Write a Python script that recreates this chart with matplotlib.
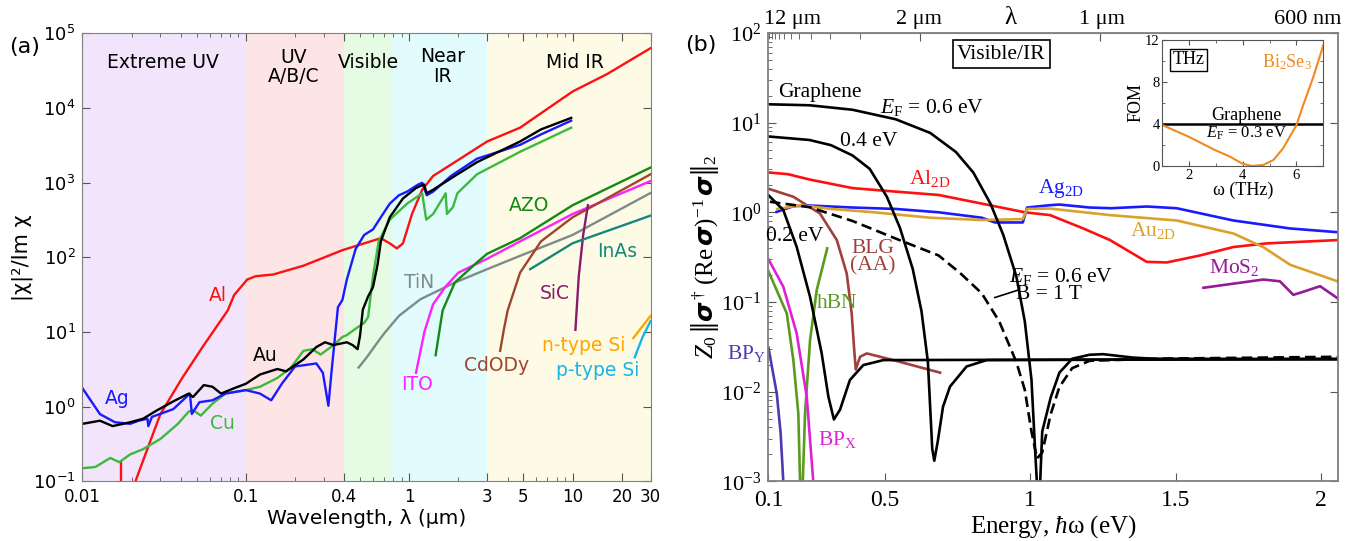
import numpy as np
import matplotlib.pyplot as plt
from matplotlib.ticker import FixedLocator, LogLocator, NullFormatter, NullLocator

plt.rcParams['mathtext.fontset'] = 'custom'
plt.rcParams['mathtext.rm'] = 'Liberation Serif'
plt.rcParams['mathtext.it'] = 'Liberation Serif:italic'
plt.rcParams['mathtext.bf'] = 'Liberation Serif:bold'
plt.rcParams['mathtext.sf'] = 'DejaVu Sans'
SERIF = 'Liberation Serif'

# ---------------- panel (a): |chi|^2 / Im chi vs wavelength (um) ----------------
band_lo = [0.01, 0.1, 0.4, 0.78, 3]
band_hi = [0.1, 0.4, 0.78, 3, 30]
band_names = ['Extreme UV', 'UV\nA/B/C', 'Visible', 'Near\nIR', 'Mid IR']
band_colors = ['#f1e4fb', '#fde5e5', '#e5fbe4', '#e2fcfd', '#fdfbe5']

al_wl = [0.0211, 0.025, 0.030, 0.0408, 0.0553, 0.0774, 0.0848, 0.102, 0.115, 0.147, 0.225, 0.39,
         0.67, 0.76, 0.84, 0.915, 1.04, 1.20, 1.40, 1.90, 3.0, 4.77, 10, 16.2, 29.9]
al_val = [0.1, 0.274, 0.796, 2.43, 6.68, 19.4, 31.3, 50.6, 56, 59, 77.4, 125,
          181, 154, 132, 154, 382, 806, 1233, 1888, 3573, 5470, 16700, 28460, 63250]
al_edge_wl = [0.0173, 0.0173]
al_edge_val = [0.1, 0.18]

ag_wl = [0.01, 0.0128, 0.0158, 0.0196, 0.0221, 0.025, 0.0253, 0.0266, 0.036, 0.0455, 0.0467, 0.052,
         0.0625, 0.075, 0.1, 0.122, 0.143, 0.166, 0.2, 0.27, 0.296, 0.32, 0.334, 0.366, 0.39, 0.415,
         0.47, 0.53, 0.6, 0.67, 0.76, 0.865, 0.97, 1.13, 1.2, 1.28, 1.4, 1.8, 2.6, 4.77, 6.4, 9.8]
ag_val = [1.77, 0.796, 0.62, 0.59, 0.65, 0.69, 0.55, 0.73, 0.93, 1.5, 0.8, 1.15,
          1.22, 1.5, 1.67, 1.5, 1.22, 2.03, 3.46, 3.8, 2.85, 1.03, 2.85, 21.5, 27, 50.6,
          130, 200, 237, 345, 525, 680, 760, 942, 1000, 680, 760, 1233, 2100, 3220, 4440, 6780]

au_wl = [0.01, 0.0128, 0.0153, 0.0196, 0.0235, 0.0282, 0.036, 0.0447, 0.0475, 0.0553, 0.0625,
         0.0705, 0.0848, 0.1, 0.122, 0.156, 0.176, 0.225, 0.27, 0.305, 0.344, 0.415, 0.45, 0.483,
         0.50, 0.52, 0.56, 0.6, 0.64, 0.67, 0.76, 0.915, 1.1, 1.23, 1.28, 1.4, 1.9, 2.6, 4.77, 6.4, 9.8]
au_val = [0.59, 0.65, 0.55, 0.62, 0.69, 0.88, 1.18, 1.5, 1.35, 1.95, 1.85,
          1.5, 1.77, 2.03, 2.7, 3.2, 2.98, 4.3, 6.3, 7.3, 6.7, 7.3, 6.7, 5.9,
          9, 20, 30, 40, 80, 164, 345, 616, 850, 950, 723, 806, 1233, 1888, 3573, 5180, 7390]

cu_wl = [0.01, 0.012, 0.0148, 0.0168, 0.0196, 0.0235, 0.030, 0.0384, 0.0447, 0.0475, 0.053,
         0.0625, 0.075, 0.1, 0.122, 0.156, 0.188, 0.225, 0.255, 0.287, 0.344, 0.39, 0.415, 0.47,
         0.53, 0.56, 0.6, 0.65, 0.76, 0.97, 1.2, 1.27, 1.4, 1.6, 1.67, 1.7, 1.85, 1.97, 2.6, 4.77, 9.8]
cu_val = [0.15, 0.156, 0.206, 0.181, 0.23, 0.27, 0.37, 0.59, 0.86, 0.9, 0.76,
          1.1, 1.5, 1.67, 1.85, 2.43, 3.3, 5.6, 5.9, 5.0, 6.7, 8.6, 9.1, 11.1,
          13.3, 15.9, 56, 164, 320, 525, 723, 320, 382, 616, 723, 382, 470, 723, 1300, 2600, 5470]

tin_wl = [0.49, 0.55, 0.64, 0.7, 0.865, 1.17, 1.9, 3.0, 4.77, 10, 30]
tin_val = [3.35, 4.6, 7.3, 9.5, 16.5, 27.5, 46, 69.6, 105, 200, 730]
ito_wl = [1.10, 1.17, 1.24, 1.40, 1.67, 2.0, 3.0, 4.77, 10, 30]
ito_val = [2.85, 5.5, 10.2, 23.6, 40.8, 62.6, 96, 164, 382, 1054]
azo_wl = [1.45, 1.6, 1.9, 2.6, 3.0, 4.77, 10, 30]
azo_val = [4.9, 19.4, 46, 86, 112, 181, 500, 1600]
cdo_wl = [3.6, 3.8, 4.0, 4.77, 6.4, 10, 30]
cdo_val = [5.6, 11, 19.4, 62.6, 164, 345, 1300]
sic_wl = [10.4, 10.9, 11.6, 12.4]
sic_val = [10.7, 56, 200, 500]
inas_wl = [5.5, 10, 30]
inas_val = [69.6, 155, 363]
nsi_wl = [23.5, 30]
nsi_val = [8.3, 16.5]
psi_wl = [24, 26.8, 30]
psi_val = [4.6, 8.6, 14]

a_xticks = [0.01, 0.1, 0.4, 1, 3, 5, 10, 20, 30]
a_xticklabels = ['0.01', '0.1', '0.4', '1', '3', '5', '10', '20', '30']
a_yticks = [0.1, 1, 10, 100, 1e3, 1e4, 1e5]
a_yticklabels = [r'$\mathsf{10^{-1}}$', r'$\mathsf{10^{0}}$', r'$\mathsf{10^{1}}$', r'$\mathsf{10^{2}}$',
                 r'$\mathsf{10^{3}}$', r'$\mathsf{10^{4}}$', r'$\mathsf{10^{5}}$']

# ---------------- panel (b): FOM vs photon energy (eV) ----------------
g06_e = [0.1, 0.241, 0.389, 0.537, 0.656, 0.744, 0.804, 0.863, 0.907, 0.952, 0.981, 1.004, 1.016,
         1.025, 1.034, 1.041, 1.07, 1.1, 1.144, 1.204, 1.25, 1.352, 1.426, 2.056]
g06_v = [16, 15.6, 13.9, 10.9, 7.67, 4.71, 2.78, 1.25, 0.56, 0.193, 0.061, 0.0136, 0.0024,
         0.0007, 0.001, 0.0036, 0.0086, 0.0163, 0.0233, 0.0258, 0.0262, 0.024, 0.0233, 0.0231]
gb_e = [0.105, 0.241, 0.389, 0.537, 0.685, 0.759, 0.833, 0.893, 0.952, 0.981, 1.004, 1.023,
        1.041, 1.07, 1.1, 1.144, 1.204, 1.426, 2.056]
gb_v = [1.31, 1.14, 0.8, 0.51, 0.33, 0.21, 0.125, 0.061, 0.0214, 0.0105, 0.0036, 0.0018,
        0.0021, 0.0056, 0.0113, 0.0183, 0.0221, 0.0233, 0.0245]
g04_e = [0.1, 0.241, 0.315, 0.389, 0.448, 0.507, 0.552, 0.596, 0.626, 0.648, 0.663, 0.67,
         0.682, 0.7, 0.724, 0.781, 0.85, 2.056]
g04_v = [7.0, 6.4, 5.6, 4.3, 3.05, 1.49, 0.67, 0.233, 0.079, 0.0215, 0.0023, 0.0017,
         0.0028, 0.0068, 0.0114, 0.0191, 0.0225, 0.0231]
g02_e = [0.1, 0.151, 0.197, 0.243, 0.283, 0.306, 0.325, 0.346, 0.38, 0.426, 0.495, 2.056]
g02_v = [1.55, 1.06, 0.412, 0.114, 0.0267, 0.0088, 0.0049, 0.0063, 0.0135, 0.0198, 0.0225, 0.0231]

al2d_e = [0.1, 0.167, 0.241, 0.389, 0.537, 0.685, 0.833, 0.981, 1.068, 1.182, 1.274, 1.4, 1.469,
          1.583, 1.698, 1.812, 2.056]
al2d_v = [2.78, 2.66, 2.32, 1.86, 1.70, 1.56, 1.25, 1.0, 0.93, 0.66, 0.49, 0.28, 0.276,
          0.33, 0.41, 0.45, 0.49]
ag2d_e = [0.128, 0.186, 0.241, 0.389, 0.537, 0.685, 0.833, 0.878, 0.974, 0.989, 1.068, 1.1,
          1.204, 1.278, 1.4, 1.503, 1.698, 1.893, 2.056]
ag2d_v = [1.01, 1.17, 1.19, 1.13, 1.09, 1.0, 0.87, 0.77, 0.77, 1.13, 1.2, 1.22,
          1.13, 1.11, 1.16, 1.11, 0.81, 0.66, 0.60]
au2d_e = [0.13, 0.211, 0.315, 0.463, 0.656, 0.833, 0.974, 0.989, 1.068, 1.274, 1.503, 1.698,
          1.8, 1.893, 2.056]
au2d_v = [1.09, 1.2, 1.09, 1.0, 0.87, 0.82, 0.84, 1.09, 1.1, 0.93, 0.81, 0.58,
          0.41, 0.26, 0.17]
mos2_e = [1.595, 1.801, 1.858, 1.904, 1.938, 1.996, 2.056]
mos2_v = [0.144, 0.178, 0.17, 0.12, 0.13, 0.15, 0.11]
blg_e = [0.1, 0.1856, 0.277, 0.335, 0.369, 0.386, 0.394, 0.40, 0.415, 0.438, 0.529, 0.69]
blg_v = [1.83, 1.49, 0.97, 0.49, 0.208, 0.075, 0.0316, 0.0177, 0.0245, 0.0267, 0.0225, 0.0163]
hbn_e = [0.1, 0.163, 0.1856, 0.2027, 0.2086, 0.213, 0.218, 0.2258, 0.243, 0.266, 0.302]
hbn_v = [0.22, 0.0746, 0.0225, 0.0057, 0.001, 0.0004, 0.001, 0.0057, 0.0376, 0.136, 0.396]
bpx_e = [0.1, 0.151, 0.197, 0.2316, 0.254]
bpx_v = [0.3, 0.148, 0.0447, 0.0088, 0.001]
bpy_e = [0.1, 0.1285, 0.142, 0.151]
bpy_v = [0.031, 0.0096, 0.00343, 0.001]

b_xticks = [0.1, 0.5, 1, 1.5, 2]
b_xticklabels = ['0.1', '0.5', '1', '1.5', '2']
b_yticks = [1e-3, 1e-2, 1e-1, 1, 10, 100]
b_yticklabels = [r'$\mathrm{10^{-3}}$', r'$\mathrm{10^{-2}}$', r'$\mathrm{10^{-1}}$',
                 r'$\mathrm{10^{0}}$', r'$\mathrm{10^{1}}$', r'$\mathrm{10^{2}}$']
top_major_um = [1, 2]
top_minor_um = [3, 4, 5, 6, 7, 8, 9, 10, 11, 12]

# inset: THz figure of merit
thz = [1, 1.41, 1.97, 2.96, 3.52, 3.96, 4.33, 4.76, 5.14, 5.5, 6.0, 6.25, 6.63, 7.0]
fom_bise = [3.9, 3.43, 2.8, 1.52, 0.89, 0.25, 0.0, 0.1, 0.57, 1.68, 3.9, 5.8, 8.5, 11.5]
thz_gr = [1, 7]
fom_gr = [4.0, 4.0]

SPINE = '#808080'
fig = plt.figure(figsize=(13.56, 5.41), dpi=100)

# ======================= (a) =======================
ax = fig.add_axes([0.0608, 0.1102, 0.419, 0.828])
ax.set_xscale('log')
ax.set_yscale('log')
ax.set_xlim(0.01, 30)
ax.set_ylim(0.1, 1e5)
for lo, hi, c in zip(band_lo, band_hi, band_colors):
    ax.axvspan(lo, hi, color=c, lw=0, zorder=0)

lw = 1.7
ax.plot(al_edge_wl, al_edge_val, color='#ff1010', lw=lw)
ax.plot(al_wl, al_val, color='#ff1010', lw=lw)
ax.plot(tin_wl, tin_val, color='#7f8a8a', lw=lw)
ax.plot(ito_wl, ito_val, color='#ff20ff', lw=lw)
ax.plot(azo_wl, azo_val, color='#128a12', lw=lw)
ax.plot(cdo_wl, cdo_val, color='#a0452d', lw=lw)
ax.plot(sic_wl, sic_val, color='#8b1a6e', lw=lw)
ax.plot(inas_wl, inas_val, color='#16887a', lw=lw)
ax.plot(nsi_wl, nsi_val, color='#ffa500', lw=lw)
ax.plot(psi_wl, psi_val, color='#1ab4e6', lw=lw)
ax.plot(cu_wl, cu_val, color='#3cba3c', lw=lw)
ax.plot(ag_wl, ag_val, color='#1a1aff', lw=lw)
ax.plot(au_wl, au_val, color='black', lw=lw)

fs = 13.5
for name, fx, fy in zip(band_names, [0.141, 0.3725, 0.504, 0.634, 0.866], [0.936, 0.925, 0.935, 0.927, 0.936]):
    ax.text(fx, fy, name, transform=ax.transAxes, ha='center', va='center', fontsize=fs,
            linespacing=1.05)
labels_a = [('Al', 0.238, 0.416, '#ff1010'), ('Au', 0.322, 0.281, 'black'), ('Ag', 0.061, 0.185, '#1a1aff'),
            ('Cu', 0.246, 0.129, '#3cba3c'), ('TiN', 0.592, 0.443, '#7f8a8a'), ('ITO', 0.588, 0.216, '#ff20ff'),
            ('AZO', 0.786, 0.616, '#128a12'), ('CdODy', 0.729, 0.258, '#a0452d'), ('SiC', 0.832, 0.42, '#8b1a6e'),
            ('InAs', 0.941, 0.514, '#16887a'), ('n-type Si', 0.882, 0.304, '#ffa500'),
            ('p-type Si', 0.907, 0.247, '#1ab4e6')]
for t, fx, fy, c in labels_a:
    ax.text(fx, fy, t, transform=ax.transAxes, ha='center', va='center', fontsize=fs, color=c)

ax.xaxis.set_major_locator(FixedLocator(a_xticks))
ax.set_xticklabels(a_xticklabels, fontsize=12)
ax.xaxis.set_minor_locator(LogLocator(base=10, subs=np.arange(2, 10)))
ax.xaxis.set_minor_formatter(NullFormatter())
ax.yaxis.set_major_locator(FixedLocator(a_yticks))
ax.set_yticklabels(a_yticklabels, fontsize=13)
ax.yaxis.set_minor_locator(NullLocator())
ax.tick_params(which='both', direction='in', top=True, right=True, color='#555555')
ax.tick_params(which='major', length=6, pad=5)
ax.tick_params(which='minor', length=3)
for s in ax.spines.values():
    s.set_color(SPINE)
ax.set_xlabel('Wavelength, λ (μm)', fontsize=14.5, labelpad=2)
ax.set_ylabel('|χ|²/Im χ', fontsize=15, labelpad=0)
fig.text(0.018, 0.913, '(a)', fontsize=16, ha='center', va='center')

# ======================= (b) =======================
bx = fig.add_axes([0.5667, 0.1102, 0.4197, 0.829])
bx.set_yscale('log')
bx.set_xlim(0.1, 2.056)
bx.set_ylim(1e-3, 1e2)
blw = 1.9
bx.plot(bpy_e, bpy_v, color='#4b3bb0', lw=blw)
bx.plot(hbn_e, hbn_v, color='#5b9a1f', lw=blw)
bx.plot(bpx_e, bpx_v, color='#e020d8', lw=blw)
bx.plot(blg_e, blg_v, color='#a0403c', lw=blw)
bx.plot(al2d_e, al2d_v, color='#ff1010', lw=blw)
bx.plot(ag2d_e, ag2d_v, color='#1a1aff', lw=blw)
bx.plot(au2d_e, au2d_v, color='#daa22c', lw=blw)
bx.plot(mos2_e, mos2_v, color='#961a96', lw=blw)
bx.plot(gb_e, gb_v, color='black', lw=blw, ls=(0, (4, 2)))
bx.plot(g02_e, g02_v, color='black', lw=blw)
bx.plot(g04_e, g04_v, color='black', lw=blw)
bx.plot(g06_e, g06_v, color='black', lw=blw)
bx.plot([0.878, 0.959], [0.112, 0.136], color='black', lw=1.2)

tfs = 15.5
def btext(x, y, s, c='black', size=tfs, **kw):
    bx.text(x, y, s, color=c, fontsize=size, family=SERIF, ha='center', va='center', **kw)

btext(0.9, 57.8, 'Visible/IR', bbox=dict(boxstyle='square,pad=0.2', fc='white', ec='black', lw=1.2))
btext(0.278, 21.6, 'Graphene')
btext(0.663, 14.6, r'$E_\mathrm{F}$ = 0.6 eV')
btext(0.444, 6.13, '0.4 eV')
btext(0.656, 2.36, r'Al$_\mathrm{2D}$', c='#ff1010')
btext(1.107, 1.86, r'Ag$_\mathrm{2D}$', c='#1a1aff')
btext(0.189, 0.538, '0.2 eV')
btext(0.46, 0.316, 'BLG\n(AA)', c='#a0403c', linespacing=0.9)
btext(1.421, 0.625, r'Au$_\mathrm{2D}$', c='#daa22c')
btext(1.70, 0.243, r'MoS$_\mathrm{2}$', c='#961a96')
btext(1.107, 0.194, r'$E_\mathrm{F}$ = 0.6 eV')
btext(1.063, 0.122, 'B = 1 T')
btext(0.337, 0.0957, 'hBN', c='#5b9a1f')
btext(0.026, 0.0265, r'BP$_\mathrm{Y}$', c='#4b3bb0')
btext(0.337, 0.0029, r'BP$_\mathrm{X}$', c='#e020d8')

bx.set_xticks(b_xticks)
bx.set_xticklabels(b_xticklabels, fontsize=17, family=SERIF)
bx.set_yticks(b_yticks)
bx.set_yticklabels(b_yticklabels, fontsize=16, family=SERIF)
bx.yaxis.set_minor_locator(LogLocator(base=10, subs=np.arange(2, 10)))
bx.yaxis.set_minor_formatter(NullFormatter())
bx.tick_params(which='both', direction='in', right=True, top=False, color='#555555')
bx.tick_params(which='major', length=6)
bx.tick_params(axis='x', which='major', pad=6)
bx.tick_params(axis='y', which='major', pad=5)
bx.tick_params(which='minor', length=3, right=False)
for s in bx.spines.values():
    s.set_color(SPINE)
    s.set_linewidth(1.3)
bx.set_xlabel(r'Energy, $\hbar$ω (eV)', fontsize=18, family=SERIF, labelpad=2)
bx.set_ylabel(r'$Z_0\,\left\Vert\boldsymbol{\sigma}^\dagger\,(\mathrm{Re}\,\boldsymbol{\sigma})^{-1}\,\boldsymbol{\sigma}\right\Vert_2$',
              fontsize=18, family=SERIF, labelpad=0)

top = bx.secondary_xaxis('top', functions=(lambda e: 1.2398 / np.maximum(e, 1e-6),
                                           lambda l: 1.2398 / np.maximum(l, 1e-6)))
top.set_xticks(top_major_um)
top.set_xticks(top_minor_um, minor=True)
top.xaxis.set_major_formatter(NullFormatter())
top.tick_params(which='both', direction='in', color='#555555')
top.tick_params(which='major', length=6)
top.tick_params(which='minor', length=4)
top.spines['top'].set_color(SPINE)
for x, s in zip([0.181, 0.618, 0.93, 1.247, 1.954], ['12 μm', '2 μm', 'λ', '1 μm', '600 nm']):
    bx.text(x, 1.008, s, transform=bx.get_xaxis_transform(), ha='center', va='bottom',
            fontsize=16 if s != 'λ' else 18, family=SERIF)
fig.text(0.517, 0.917, '(b)', fontsize=16, ha='center', va='center')

# ======================= inset =======================
ix = fig.add_axes([0.8572, 0.6932, 0.1187, 0.2329])
ix.plot(thz_gr, fom_gr, color='black', lw=1.8)
ix.plot(thz, fom_bise, color='#f08a1e', lw=1.5)
ix.set_xlim(1, 7)
ix.set_ylim(0, 12)
ix.set_xticks([2, 4, 6])
ix.set_xticks([1, 3, 5, 7], minor=True)
ix.set_yticks([0, 4, 8, 12])
ix.set_yticks([2, 6, 10], minor=True)
ix.set_xticklabels(['2', '4', '6'], fontsize=10.5, family=SERIF)
ix.set_yticklabels(['0', '4', '8', '12'], fontsize=10.5, family=SERIF)
ix.tick_params(which='both', direction='in', top=True, right=True, pad=2, color='#555555')
ix.tick_params(which='major', length=3.5)
ix.tick_params(which='minor', length=2)
for s in ix.spines.values():
    s.set_color('#555555')
ix.set_xlabel('ω (THz)', fontsize=13, family=SERIF, labelpad=0)
ix.set_ylabel('FOM', fontsize=13, family=SERIF, labelpad=0)
ix.text(1.985, 10.1, 'THz', fontsize=13, family=SERIF, ha='center', va='center',
        bbox=dict(boxstyle='square,pad=0.15', fc='white', ec='black', lw=1))
ix.text(5.64, 9.93, r'Bi$_\mathrm{2}$Se$_\mathrm{3}$', fontsize=13, family=SERIF, color='#f08a1e',
        ha='center', va='center')
ix.text(4.15, 4.79, 'Graphene', fontsize=13, family=SERIF, ha='center', va='center')
ix.text(4.15, 3.11, r'$E_\mathrm{F}$ = 0.3 eV', fontsize=12, family=SERIF, ha='center', va='center')

fig.savefig('out.png', dpi=100)
